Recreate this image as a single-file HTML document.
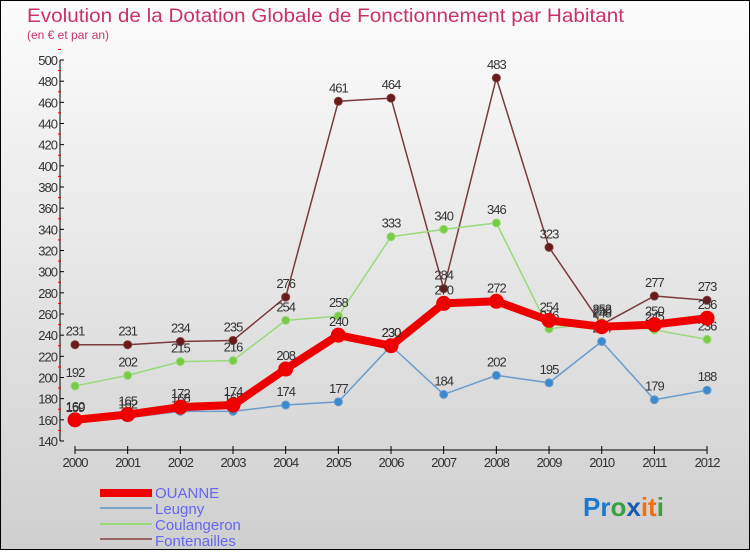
<!DOCTYPE html>
<html><head><meta charset="utf-8"><style>
body{margin:0;width:750px;height:550px;overflow:hidden;font-family:"Liberation Sans",sans-serif}
</style></head><body>
<svg id="chart" width="750" height="550" xmlns="http://www.w3.org/2000/svg" font-family="Liberation Sans, sans-serif">
<defs><linearGradient id="bg" x1="0" y1="0" x2="0" y2="1"><stop offset="0" stop-color="#fcfcfc"/><stop offset="1" stop-color="#cfcfcf"/></linearGradient></defs>
<rect x="0.5" y="0.5" width="749" height="549" fill="url(#bg)" stroke="#000"/>
<text x="27" y="22" font-size="19" fill="#c8326a" textLength="597" lengthAdjust="spacingAndGlyphs">Evolution de la Dotation Globale de Fonctionnement par Habitant</text>
<text x="27" y="39" font-size="12" fill="#c8326a">(en € et par an)</text>
<g id="axes"></g>
<g id="series"></g>
<g font-size="15" fill="#6666ee">
<rect x="100" y="489" width="52" height="8" fill="#ee0000"/><text x="155" y="498">OUANNE</text>
<line x1="100" y1="508" x2="152" y2="508" stroke="#7ba3c8" stroke-width="2"/><text x="155" y="514">Leugny</text>
<line x1="100" y1="524" x2="152" y2="524" stroke="#99d97a" stroke-width="2"/><text x="155" y="530">Coulangeron</text>
<line x1="100" y1="539" x2="152" y2="539" stroke="#9a6464" stroke-width="2"/><text x="155" y="546">Fontenailles</text>
</g>
<text x="583" y="516" font-size="26" font-weight="bold"><tspan fill="#1a7ad0">Pr</tspan><tspan fill="#3aa040">o</tspan><tspan fill="#1a5ab0">x</tspan><tspan fill="#f07010">it</tspan><tspan fill="#3aa040">i</tspan></text>
</svg>
<script>
const years=[2000,2001,2002,2003,2004,2005,2006,2007,2008,2009,2010,2011,2012];
const yTicks=[140,160,180,200,220,240,260,280,300,320,340,360,380,400,420,440,460,480,500];
const ouanne=[160,165,172,174,208,240,230,270,272,254,248,250,256];
const leugny=[159,162,168,168,174,177,230,184,202,195,234,179,188];
const coulangeron=[192,202,215,216,254,258,333,340,346,246,252,245,236];
const fontenailles=[231,231,234,235,276,461,464,284,483,323,250,277,273];
const NS="http://www.w3.org/2000/svg";
const X=i=>75+i*52.67;
const Y=v=>60+(500-v)*381/360;
function mk(t,a,p){const e=document.createElementNS(NS,t);for(const k in a)e.setAttribute(k,a[k]);p.appendChild(e);return e;}
const ax=document.getElementById('axes');
const yl=mk('line',{x1:60,y1:60,x2:60,y2:441,stroke:'#000'},ax);


yTicks.forEach(v=>{
 mk('line',{x1:60,y1:Y(v),x2:64,y2:Y(v),stroke:'#000'},ax);
 mk('line',{x1:58,y1:Y(v+10),x2:61,y2:Y(v+10),stroke:'#e00'},ax);
 const t=mk('text',{x:57,y:Y(v)+5,'font-size':13,fill:'#333','text-anchor':'end','letter-spacing':'-1'},ax);
 
 
 t.textContent=v;
});
const xl=mk('line',{x1:75,y1:450,x2:X(12),y2:450,stroke:'#000'},ax);


years.forEach((y,i)=>{
 mk('line',{x1:X(i),y1:446,x2:X(i),y2:454,stroke:'#000'},ax);
 const t=mk('text',{x:X(i),y:467,'font-size':13,fill:'#333','text-anchor':'middle','letter-spacing':'-1'},ax);
 
 
 t.textContent=y;
});
const sg=document.getElementById('series');
function draw(name,vals,color,dot,w,r,labels){
 const g=mk('g',{},sg);
 
 
 const l=mk('polyline',{points:vals.map((v,i)=>X(i)+','+Y(v)).join(' '),fill:'none',stroke:color,'stroke-width':w,'stroke-linejoin':'round'},g);
 
 
 vals.forEach((v,i)=>{
  const c=mk('circle',{cx:X(i),cy:Y(v),r:r,fill:dot,stroke:color,'stroke-width':1},g);
  
  
  if(labels){const t=mk('text',{x:X(i),y:Y(v)-9,'font-size':13,fill:'#333','text-anchor':'middle','letter-spacing':'-1'},g);
  
  
  t.textContent=v;}
 });
}
draw('fontenailles',fontenailles,'#7a3a3a','#6a1a1a',1.5,4,true);
draw('coulangeron',coulangeron,'#99d97a','#77cc44',1.5,4,true);
draw('leugny',leugny,'#6a9ccc','#3a8ad0',1.5,4,true);
draw('ouanne',ouanne,'#ee0000','#ee0000',8,7,true);
</script>
</body></html>
